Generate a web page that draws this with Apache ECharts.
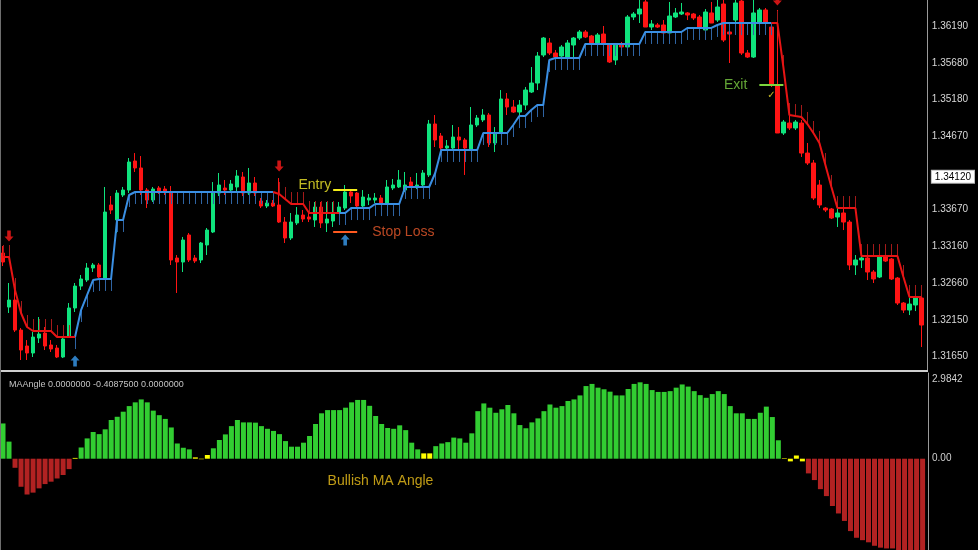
<!DOCTYPE html>
<html><head><meta charset="utf-8">
<script src="https://cdn.jsdelivr.net/npm/echarts@6/dist/echarts.min.js"></script>
<style>html,body{margin:0;padding:0;background:#000;overflow:hidden}#c{width:978px;height:550px}</style>
</head><body><div id="c"></div>
<script>
// ---- price bars ----
const opens = [1.33074,1.32332,1.32428,1.32016,1.31797,1.31701,1.31907,1.31975,1.31811,1.31769,
1.31646,1.31920,1.32319,1.32620,1.32703,1.32868,1.32909,1.32730,1.33733,1.33527,
1.33870,1.33938,1.34337,1.34241,1.33938,1.33801,1.33966,1.33952,1.33911,1.33005,
1.32950,1.33321,1.33005,1.32978,1.33184,1.33362,1.33897,1.33966,1.33938,1.33980,
1.34117,1.33897,1.34035,1.33788,1.33719,1.33760,1.33733,1.33499,1.33280,1.33486,
1.33595,1.33568,1.33527,1.33705,1.33486,1.33513,1.33623,1.33691,1.33911,1.33897,
1.33719,1.33801,1.33801,1.33829,1.33760,1.33966,1.33980,1.33938,1.34048,1.33980,
1.34007,1.34145,1.34845,1.34680,1.34515,1.34515,1.34666,1.34625,1.34501,1.34831,
1.34900,1.34968,1.34584,1.34735,1.35188,1.35078,1.35009,1.35105,1.35284,1.35407,
1.35792,1.35957,1.35819,1.35778,1.35764,1.35929,1.36025,1.36108,1.36053,1.35957,
1.36080,1.35929,1.35723,1.35943,1.35902,1.36314,1.36355,1.36520,1.36176,1.36204,
1.36204,1.36094,1.36314,1.36355,1.36369,1.36355,1.36314,1.36135,1.36369,1.36272,
1.36492,1.36108,1.36272,1.36533,1.35819,1.35764,1.36245,1.36410,1.36176,1.35380,
1.34721,1.34858,1.34790,1.34858,1.34446,1.34309,1.34007,1.33691,1.33678,1.33568,
1.33623,1.33499,1.32909,1.32978,1.33005,1.32813,1.32744,1.33032,1.32991,1.32730,
1.32387,1.32291,1.32360,1.32456];
const closes = [1.32950,1.32428,1.32016,1.31742,1.31701,1.31920,1.31962,1.31797,1.31756,1.31646,
1.31893,1.32319,1.32620,1.32717,1.32868,1.32909,1.32744,1.33636,1.33664,1.33897,
1.33938,1.34323,1.34241,1.33938,1.33801,1.33952,1.33925,1.33925,1.32978,1.32950,
1.33252,1.32978,1.32964,1.33211,1.33389,1.33897,1.34007,1.33938,1.34021,1.34131,
1.33897,1.34035,1.33897,1.33719,1.33760,1.33719,1.33499,1.33280,1.33499,1.33595,
1.33540,1.33540,1.33705,1.33486,1.33540,1.33623,1.33705,1.33911,1.33856,1.33719,
1.33842,1.33829,1.33829,1.33760,1.33980,1.34007,1.34076,1.34007,1.33993,1.34007,
1.34172,1.34845,1.34625,1.34515,1.34543,1.34666,1.34625,1.34515,1.34831,1.34927,
1.34968,1.34584,1.34721,1.35188,1.35078,1.35009,1.35105,1.35311,1.35407,1.35778,
1.36025,1.35819,1.35764,1.35902,1.35957,1.36025,1.36108,1.36039,1.35957,1.36067,
1.35957,1.35696,1.35929,1.35902,1.36314,1.36355,1.36423,1.36176,1.36218,1.36176,
1.36094,1.36327,1.36369,1.36382,1.36341,1.36300,1.36176,1.36382,1.36231,1.36451,
1.35998,1.36080,1.36506,1.35819,1.35764,1.36369,1.36410,1.36231,1.35380,1.34721,
1.34872,1.34790,1.34872,1.34446,1.34309,1.33829,1.33733,1.33664,1.33554,1.33623,
1.33499,1.32909,1.32978,1.33005,1.32813,1.32717,1.33032,1.32964,1.32717,1.32387,
1.32291,1.32373,1.32456,1.32085];
const lows = [1.32895,1.32250,1.31989,1.31605,1.31605,1.31646,1.31838,1.31742,1.31715,1.31632,
1.31632,1.31907,1.32264,1.32566,1.32676,1.32813,1.32730,1.32703,1.33609,1.33348,
1.33842,1.33897,1.34186,1.33870,1.33691,1.33774,1.33884,1.33870,1.32909,1.32525,
1.32813,1.32950,1.32936,1.32936,1.33046,1.33348,1.33856,1.33870,1.33911,1.33911,
1.33856,1.33870,1.33856,1.33691,1.33691,1.33705,1.33486,1.33211,1.33252,1.33458,
1.33499,1.33499,1.33431,1.33417,1.33362,1.33431,1.33609,1.33664,1.33760,1.33705,
1.33705,1.33733,1.33760,1.33746,1.33746,1.33938,1.33966,1.33911,1.33966,1.33952,
1.33980,1.34117,1.34529,1.34488,1.34488,1.34488,1.34488,1.34145,1.34488,1.34803,
1.34872,1.34529,1.34460,1.34721,1.34968,1.34996,1.34968,1.35037,1.35270,1.35311,
1.35764,1.35792,1.35751,1.35751,1.35751,1.35764,1.35998,1.36025,1.35957,1.35957,
1.35957,1.35682,1.35655,1.35861,1.35888,1.36272,1.36231,1.36176,1.36135,1.36163,
1.36067,1.36094,1.36300,1.36341,1.36272,1.36272,1.36135,1.36121,1.36231,1.36245,
1.35971,1.35682,1.36245,1.35792,1.35751,1.35751,1.36204,1.36176,1.35353,1.34721,
1.34694,1.34762,1.34762,1.34392,1.34282,1.33801,1.33691,1.33636,1.33540,1.33431,
1.33389,1.32840,1.32772,1.32868,1.32703,1.32662,1.32730,1.32950,1.32703,1.32360,
1.32250,1.32222,1.32277,1.31783];
const highs = [1.33170,1.32662,1.32566,1.32044,1.31879,1.31989,1.32195,1.32058,1.31879,1.31811,
1.31920,1.32387,1.32662,1.32772,1.32936,1.32936,1.32936,1.33980,1.33856,1.33938,
1.33980,1.34378,1.34446,1.34405,1.33966,1.33980,1.33993,1.33993,1.33993,1.33046,
1.33294,1.33348,1.33046,1.33225,1.33417,1.34048,1.34172,1.34076,1.34076,1.34213,
1.34186,1.34241,1.34117,1.33829,1.33801,1.33801,1.34103,1.33568,1.33623,1.33705,
1.33664,1.33636,1.33774,1.33774,1.33774,1.33774,1.33774,1.34007,1.33938,1.33911,
1.33938,1.33884,1.33897,1.33870,1.34076,1.34090,1.34213,1.34186,1.34117,1.34172,
1.34213,1.34900,1.34968,1.34721,1.34625,1.34831,1.34803,1.34652,1.35078,1.34968,
1.35050,1.34996,1.34803,1.35311,1.35270,1.35174,1.35174,1.35353,1.35627,1.35833,
1.36039,1.36025,1.35861,1.35929,1.35998,1.36039,1.36135,1.36135,1.36067,1.36094,
1.36190,1.35957,1.35957,1.35971,1.36341,1.36382,1.36600,1.36600,1.36272,1.36231,
1.36272,1.36520,1.36437,1.36506,1.36382,1.36369,1.36341,1.36423,1.36520,1.36600,
1.36600,1.36245,1.36600,1.36600,1.35861,1.36600,1.36437,1.36437,1.36204,1.36410,
1.34900,1.34968,1.34900,1.34900,1.34584,1.34351,1.34076,1.33705,1.33691,1.33691,
1.33691,1.33527,1.33046,1.33046,1.33046,1.32840,1.33046,1.33156,1.33005,1.32744,
1.32401,1.32456,1.32470,1.32634];

// ---- trailing stop (blue = long stop, red = short stop) ----
const stopUp = [null,null,null,null,null,null,null,null,null,null,null,null,
1.31920,1.32291,1.32497,1.32703,1.32717,1.32717,1.32717,1.33527,1.33527,1.33870,
1.33911,1.33911,1.33911,1.33911,1.33911,1.33911,1.33911,1.33911,1.33911,1.33911,
1.33911,1.33911,1.33911,1.33911,1.33911,1.33911,1.33911,1.33911,1.33911,1.33911,
1.33911,1.33911,1.33911,1.33911,
null,null,null,null,null,null,null,null,null,null,
1.33623,1.33623,1.33691,1.33691,1.33691,1.33691,1.33746,1.33746,1.33746,1.33746,1.33746,
1.33980,1.33980,1.33980,1.33980,1.33980,1.34172,
1.34488,1.34488,1.34488,1.34488,1.34488,1.34488,1.34488,
1.34721,1.34721,1.34721,1.34721,1.34721,1.34831,1.34954,1.34954,1.35037,1.35105,1.35105,
1.35723,1.35751,1.35751,1.35751,1.35751,1.35751,
1.35943,1.35943,1.35943,1.35943,1.35943,1.35943,1.35943,1.35943,1.35943,1.35943,
1.36108,1.36108,1.36108,1.36108,1.36108,1.36108,1.36108,
1.36163,1.36163,1.36163,1.36163,1.36163,1.36204,
1.36231,1.36231,1.36231,1.36231,1.36231,1.36231,1.36231,1.36231,1.36231,
null,null,null,null,null,null,null,null,null,null,null,null,null,null,null,null,null,null,null,null,null,null,null,null,null];
const stopDown = [1.33019,1.33019,1.32566,1.32250,1.32058,1.32003,1.32003,1.32003,1.32003,1.31920,1.31920,1.31920,1.31920,
null,null,null,null,null,null,null,null,null,null,null,null,null,null,null,null,
null,null,null,null,null,null,null,null,null,null,null,null,null,null,null,null,
1.33911,1.33884,1.33815,1.33746,1.33746,1.33746,1.33623,1.33623,1.33623,1.33623,1.33623,1.33623,
null,null,null,null,null,null,null,null,null,null,null,null,null,null,null,null,null,null,null,null,
null,null,null,null,null,null,null,null,null,null,null,null,null,null,null,null,null,null,null,null,
null,null,null,null,null,null,null,null,null,null,null,null,null,null,null,null,null,null,null,null,
null,null,null,null,null,null,null,null,null,null,null,
1.36231,1.36231,1.35627,1.34968,1.34954,1.34941,1.34845,1.34721,1.34584,1.34282,1.33980,
1.33691,1.33691,1.33691,1.33691,1.33032,1.33032,1.33032,1.33032,1.33032,1.33032,1.33032,
1.32744,1.32470,1.32470,1.32470];

// ---- MA angle histogram ----
const maAngle = [1.32,0.64,-0.34,-1.05,-1.34,-1.27,-1.11,-0.95,-0.86,-0.74,
-0.61,-0.39,0.03,0.42,0.76,1.00,0.92,1.10,1.45,1.57,
1.76,1.97,2.11,2.22,2.11,1.80,1.63,1.49,1.17,0.57,
0.41,0.35,0.05,-0.02,0.14,0.39,0.70,0.91,1.22,1.45,
1.36,1.36,1.35,1.22,1.12,1.04,0.92,0.66,0.45,0.45,
0.60,0.85,1.30,1.70,1.82,1.82,1.82,1.91,2.11,2.20,
2.20,1.98,1.60,1.30,1.15,1.12,1.25,1.07,0.60,0.35,
0.20,0.20,0.47,0.57,0.62,0.79,0.76,0.60,0.95,1.78,
2.07,1.91,1.72,1.85,2.01,1.70,1.26,1.14,1.36,1.51,
1.78,2.03,1.91,1.97,2.16,2.22,2.37,2.72,2.80,2.66,
2.60,2.51,2.37,2.37,2.61,2.80,2.86,2.80,2.57,2.50,
2.50,2.53,2.66,2.78,2.70,2.53,2.38,2.28,2.42,2.53,
2.42,1.97,1.70,1.70,1.49,1.49,1.72,1.95,1.56,0.69,
0.02,-0.10,0.12,-0.10,-0.55,-0.80,-1.14,-1.40,-1.77,-2.05,
-2.33,-2.71,-2.96,-3.05,-3.13,-3.26,-3.33,-3.36,-3.36,-3.50,
-3.60,-3.60,-3.60,-3.60];
const angleThreshold = 0.25;

// ---- axes / annotations ----
const priceTicks = [1.36190,1.35680,1.35180,1.34670,1.34120,1.33670,1.33160,1.32660,1.32150,1.31650];
const currentPrice = 1.34120;
const angleTicks = [2.9842, 0];
const buyArrows = [[12,1.31591],[57,1.33252]];
const sellArrows = [[1,1.33307],[46,1.34268],[129,1.36547]];
const entryLevel = 1.33947, entryFrom = 55, entryTo = 59;
const stopLevel = 1.33362, stopFrom = 55, stopTo = 59;
const exitLevel = 1.35380, exitFrom = 126, exitTo = 130;

const categories = opens.map((_, i) => i);
const candles = opens.map((o, i) => [o, closes[i], lows[i], highs[i]]);
const ticks = [];
categories.forEach(i => {
  if (stopUp[i] != null) ticks.push([i, stopUp[i], 1]);
  else if (stopDown[i] != null) ticks.push([i, stopDown[i], -1]);
});
const FONT = 'Liberation Sans, Arial, sans-serif';

const chart = echarts.init(document.getElementById('c'), null, {renderer: 'canvas'});
chart.setOption({
  backgroundColor: '#000',
  animation: false,
  title: {text: 'MAAngle 0.0000000 -0.4087500 0.0000000', left: 4, top: 375,
    textStyle: {color: '#c4c4c4', fontSize: 9, fontWeight: 'normal', fontFamily: FONT}},
  grid: [
    {left: -1.4, top: 0, width: 927, height: 371},
    {left: -1.4, top: 373, width: 927, height: 177}
  ],
  xAxis: [
    {type: 'category', gridIndex: 0, data: categories, boundaryGap: true, show: false},
    {type: 'category', gridIndex: 1, data: categories, boundaryGap: true, show: false}
  ],
  yAxis: [
    {type: 'value', gridIndex: 0, position: 'right', offset: 2.4, min: 1.31454, max: 1.36547,
      axisLine: {show: true, lineStyle: {color: '#9a9a9a', width: 1}},
      axisTick: {show: false}, splitLine: {show: false},
      axisLabel: {customValues: priceTicks, margin: 5, color: '#d8d8d8', fontSize: 10, fontFamily: FONT,
        formatter: v => Math.abs(v - currentPrice) < 1e-7 ? '{box|' + v.toFixed(5) + '}' : v.toFixed(5),
        rich: {box: {backgroundColor: '#ffffff', color: '#000', fontSize: 10, fontFamily: FONT,
          padding: [1, 3, 1, 3], borderColor: '#bbbbbb', borderWidth: 1}}}},
    {type: 'value', gridIndex: 1, position: 'right', offset: 2.4, min: -3.418, max: 3.209,
      axisLine: {show: true, lineStyle: {color: '#9a9a9a', width: 1}},
      axisTick: {show: false}, splitLine: {show: false},
      axisLabel: {customValues: angleTicks, margin: 4, color: '#d0d0d0', fontSize: 10, fontFamily: FONT,
        formatter: v => v === 0 ? '0.00' : v.toFixed(4)}}
  ],
  graphic: [
    {type: 'line', shape: {x1: 0, y1: 371, x2: 928, y2: 371}, style: {stroke: '#cfcfcf', lineWidth: 2}, z: 100},
    {type: 'line', shape: {x1: 0.5, y1: 0, x2: 0.5, y2: 550}, style: {stroke: '#6e6e6e', lineWidth: 1}, z: 100}
  ],
  series: [
    {type: 'candlestick', xAxisIndex: 0, yAxisIndex: 0, data: candles, barWidth: 4,
      itemStyle: {color: '#0fe37d', color0: '#ff1414', borderColor: '#0fe37d', borderColor0: '#ff1414', borderWidth: 1}, z: 2},
    {type: 'custom', xAxisIndex: 0, yAxisIndex: 0, data: ticks, z: 3,
      renderItem: (params, api) => {
        const p = api.coord([api.value(0), api.value(1)]);
        const up = api.value(2) > 0;
        const x = Math.round(p[0]) + 0.5;
        return {type: 'line', shape: {x1: x, y1: p[1], x2: x, y2: p[1] + (up ? 12 : -12)},
          style: {stroke: up ? '#2f64a3' : '#a51a1a', lineWidth: 1}};
      }},
    {type: 'line', xAxisIndex: 0, yAxisIndex: 0, data: stopUp, showSymbol: false, connectNulls: false,
      lineStyle: {color: '#3a8fe3', width: 2}, z: 4},
    {type: 'line', xAxisIndex: 0, yAxisIndex: 0, data: stopDown, showSymbol: false, connectNulls: false,
      lineStyle: {color: '#e81414', width: 2}, z: 4},
    {type: 'scatter', xAxisIndex: 0, yAxisIndex: 0, data: sellArrows, z: 5,
      symbol: 'path://M3,0L7,0L7,6L10,6L5,11L0,6L3,6Z', symbolSize: [9, 11], itemStyle: {color: '#ff1a1a'}},
    {type: 'scatter', xAxisIndex: 0, yAxisIndex: 0, data: buyArrows, z: 5,
      symbol: 'path://M5,0L10,5L7,5L7,11L3,11L3,5L0,5Z', symbolSize: [9, 11], itemStyle: {color: '#3a9cf0'}},
    {type: 'scatter', xAxisIndex: 0, yAxisIndex: 0, symbolSize: 0, z: 6, silent: true,
      data: [
        {value: [entryFrom, 1.34007], label: {show: true, formatter: 'Entry', position: 'left', distance: 2, color: '#f2ea2c', fontSize: 14, fontFamily: FONT}},
        {value: [stopTo, stopLevel], label: {show: true, formatter: 'Stop Loss', position: 'right', distance: 15, color: '#ea5a2c', fontSize: 14, fontFamily: FONT}},
        {value: [exitFrom, exitLevel], label: {show: true, formatter: 'Exit', position: 'left', distance: 12, color: '#7dd044', fontSize: 14, fontFamily: FONT}},
        {value: [128, 1.35243], label: {show: true, formatter: '✓', position: 'inside', color: '#f0e030', fontSize: 10, fontFamily: 'DejaVu Sans'}}
      ],
      markLine: {silent: true, symbol: ['none', 'none'], label: {show: false},
        data: [
          [{coord: [entryFrom, entryLevel], lineStyle: {color: '#f5ee1a', width: 2, type: 'solid'}}, {coord: [entryTo, entryLevel]}],
          [{coord: [stopFrom, stopLevel], lineStyle: {color: '#ff5a20', width: 2, type: 'solid'}}, {coord: [stopTo, stopLevel]}],
          [{coord: [exitFrom, exitLevel], lineStyle: {color: '#7ed63e', width: 2, type: 'solid'}}, {coord: [exitTo, exitLevel]}]
        ]}},
    {type: 'bar', xAxisIndex: 1, yAxisIndex: 1, barWidth: 5, z: 2,
      data: maAngle.map(v => ({value: v, itemStyle: {color: v > angleThreshold ? '#32cd32' : (v < -angleThreshold ? '#b22222' : '#ffff00')}}))},
    {type: 'scatter', xAxisIndex: 1, yAxisIndex: 1, symbolSize: 0, silent: true, z: 6,
      data: [{value: [54, -0.835], label: {show: true, formatter: 'Bullish MA Angle', position: 'right', distance: 0, color: '#efc21c', fontSize: 14, fontFamily: FONT}}]}
  ]
});
</script>
</body></html>
